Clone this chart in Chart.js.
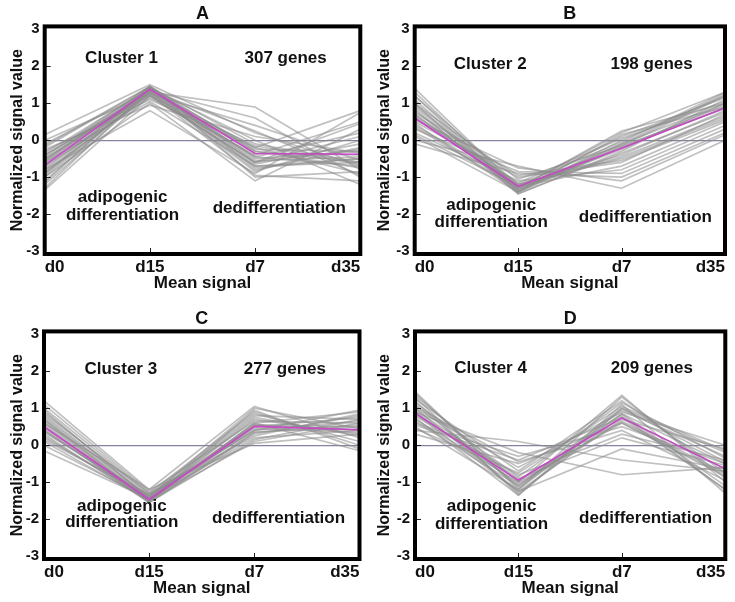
<!DOCTYPE html>
<html>
<head>
<meta charset="utf-8">
<script src="https://cdn.jsdelivr.net/npm/chart.js@4.4.1/dist/chart.umd.min.js"></script>
<style>
  html, body { margin: 0; padding: 0; background: #fff; overflow: hidden; width: 735px; height: 602px; }
  .panel { position: absolute; height: 300px; }
</style>
</head>
<body>
<div class="panel" style="left:0;top:0;width:367px"><canvas id="chart-a"></canvas></div>
<div class="panel" style="left:367px;top:0;width:368px"><canvas id="chart-b"></canvas></div>
<div class="panel" style="left:0;top:305px;width:367px"><canvas id="chart-c"></canvas></div>
<div class="panel" style="left:367px;top:305px;width:368px"><canvas id="chart-d"></canvas></div>

<script>
// time points and y tick labels
var days = ['d0', 'd15', 'd7', 'd35'];
var yTicks = [-3, -2, -1, 0, 1, 2, 3];

// cluster 1 (307 genes): mean profile + a sample of gene profiles
var meanA = [-0.68, 1.38, -0.36, -0.38];
var genesA = [
  [-0.65, 1.40, -0.35, -0.40], [-0.20, 1.45, -0.10, -0.60], [0.15, 1.50, 0.20, -0.70],
  [-0.40, 1.30, 0.90, -0.80], [-1.35, 1.20, -0.60, 0.10], [-1.10, 1.35, -0.80, -0.20],
  [-0.90, 1.45, -0.50, -0.30], [-0.50, 1.25, 0.40, -0.55], [-0.30, 1.10, -0.20, -0.90],
  [-1.00, 1.00, -1.10, 0.30], [-0.80, 0.80, -0.90, 0.75], [-0.60, 1.40, 0.00, -1.20],
  [-1.20, 1.30, -0.70, -0.50], [-0.10, 1.35, 0.60, -1.00], [-0.70, 1.15, -0.40, 0.50],
  [-0.45, 1.45, -0.30, -0.75], [-0.95, 1.40, -0.65, -0.10], [-0.25, 0.95, 0.10, -0.35],
  [-0.55, 1.30, -0.85, 0.00], [-0.85, 1.20, -0.15, -0.65], [-0.35, 1.40, -0.55, -0.45],
  [-1.15, 1.45, -1.00, -0.85], [-0.75, 1.35, 0.25, -0.95], [0.00, 1.25, -0.45, 0.20],
  [-0.60, 1.05, -0.70, -0.60], [-1.30, 1.40, -0.25, -0.30], [-0.15, 1.45, -0.75, -0.50],
  [-0.50, 1.35, -0.20, 0.80], [-0.90, 1.25, -0.95, -1.10], [-0.40, 1.20, -0.60, 0.45],
  [-0.80, 1.35, -0.45, -0.70], [-0.55, 1.45, -0.60, -0.25], [-1.00, 1.30, -0.30, -0.60]
];

// cluster 2 (198 genes)
var meanB = [0.60, -1.25, -0.22, 0.88];
var genesB = [
  [0.60, -1.25, -0.20, 0.88], [1.40, -1.30, 0.20, 1.30], [1.20, -1.40, 0.00, 1.20],
  [1.00, -1.45, -0.30, 1.10], [0.80, -1.35, -0.10, 1.25], [0.40, -1.20, -0.50, 0.60],
  [0.20, -1.10, -0.80, 0.40], [-0.10, -0.90, -1.00, 0.20], [0.00, -0.70, -1.30, 0.00],
  [0.90, -1.30, 0.25, 1.00], [0.70, -1.20, -0.40, 0.80], [1.10, -1.40, -0.20, 0.95],
  [0.50, -1.00, -0.60, 0.70], [0.30, -0.85, -0.90, 0.30], [1.30, -1.35, 0.10, 1.15],
  [0.65, -1.15, 0.05, 1.05], [0.85, -1.45, -0.35, 0.75], [0.15, -1.25, -0.70, 0.50],
  [1.00, -1.05, -0.15, 1.20], [0.45, -1.40, 0.15, 0.90], [0.75, -0.95, -0.55, 0.55],
  [1.20, -1.20, -0.05, 1.30], [0.35, -1.30, -0.25, 1.00], [0.55, -0.75, -1.10, 0.15],
  [0.95, -1.25, -0.45, 0.65], [0.10, -1.40, -0.15, 0.85], [0.70, -1.35, -0.10, 1.00]
];

// cluster 3 (277 genes)
var meanC = [0.50, -1.47, 0.51, 0.42];
var genesC = [
  [0.50, -1.47, 0.50, 0.42], [1.20, -1.20, 1.05, 0.20], [1.00, -1.30, 0.90, 0.00],
  [0.80, -1.40, 0.80, 0.70], [0.60, -1.50, 0.60, 0.90], [0.30, -1.55, 0.30, 0.80],
  [0.10, -1.50, 0.10, 0.60], [-0.15, -1.45, 0.20, 0.40], [0.90, -1.35, 0.40, 0.95],
  [0.70, -1.45, 0.70, 0.30], [0.40, -1.50, 0.95, -0.10], [0.20, -1.40, 0.55, 0.50],
  [1.10, -1.25, 0.65, 0.60], [0.55, -1.55, 0.15, 0.70], [0.35, -1.35, 0.85, 0.10],
  [0.65, -1.50, 0.45, 0.35], [0.85, -1.30, 0.25, 0.85], [0.00, -1.45, 0.75, 0.25],
  [0.45, -1.55, 0.35, 0.55], [0.75, -1.40, 1.00, 0.45], [0.25, -1.50, 0.60, -0.15],
  [0.95, -1.45, 0.50, 0.75], [0.60, -1.20, 0.05, 0.30], [0.15, -1.35, 0.40, 0.65],
  [0.40, -1.45, 0.55, 0.40], [0.70, -1.50, 0.35, 0.50]
];

// cluster 4 (209 genes)
var meanD = [0.87, -0.95, 0.74, -0.64];
var genesD = [
  [0.87, -0.95, 0.74, -0.64], [1.45, -1.20, 1.30, -0.90], [1.30, -1.35, 1.10, -1.30],
  [1.10, -1.10, 1.00, -0.20], [1.00, -0.60, 0.90, 0.00], [0.60, -0.30, 0.50, -0.50],
  [0.40, 0.10, -0.40, -0.70], [0.30, -0.50, 0.60, -0.80], [0.70, -1.00, 1.35, -1.00],
  [0.90, -0.20, -0.80, -0.60], [1.20, -1.30, 0.80, -1.20], [0.80, -0.80, 0.30, -0.40],
  [0.50, -1.20, 0.95, -0.30], [1.00, -1.25, 0.70, -0.10], [1.25, -0.70, 1.20, -0.75],
  [0.65, -1.10, 0.85, -1.10], [0.95, -0.90, 0.20, -0.55], [1.35, -1.00, 0.60, -0.85],
  [0.75, -1.35, 1.00, -0.45], [0.55, -0.40, 0.75, -1.20], [1.15, -0.85, 1.15, -0.35],
  [0.85, -1.25, -0.10, -0.65], [1.05, -0.45, 0.40, -0.95], [0.45, -0.75, 1.05, -0.15],
  [1.40, -1.15, 0.85, -0.50], [0.90, -1.05, 0.65, -0.75]
];

var FONT = "'Liberation Sans', Arial, sans-serif";

// text written inside each plot, placed in data units (x = category index)
function panelNotes(cluster, genes, ys) {
  return [
    { text: cluster, x: 0.73, y: ys[0] },
    { text: genes, x: 2.29, y: ys[0] },
    { text: 'adipogenic', x: 0.74, y: ys[1] },
    { text: 'differentiation', x: 0.74, y: ys[2] },
    { text: 'dedifferentiation', x: 2.23, y: ys[3] }
  ];
}

var framePlugin = {
  id: 'frame',
  afterDatasetsDraw: function (chart, args, opts) {
    var ctx = chart.ctx;
    var area = chart.chartArea;
    var xs = chart.scales.x;
    var ys = chart.scales.y;

    ctx.save();
    // inner tick marks
    ctx.strokeStyle = '#222';
    ctx.lineWidth = 1;
    yTicks.forEach(function (v) {
      if (Math.abs(v) === 3) return;
      var py = Math.round(ys.getPixelForValue(v)) + 0.5;
      ctx.beginPath();
      ctx.moveTo(area.left, py);
      ctx.lineTo(area.left + 6, py);
      ctx.stroke();
    });
    for (var i = 1; i < days.length - 1; i++) {
      var px = Math.round(xs.getPixelForValue(i)) + 0.5;
      ctx.beginPath();
      ctx.moveTo(px, area.bottom);
      ctx.lineTo(px, area.bottom - 6);
      ctx.stroke();
    }

    // notes
    ctx.fillStyle = '#111';
    ctx.font = 'bold 17px ' + FONT;
    ctx.textAlign = 'center';
    ctx.textBaseline = 'middle';
    (opts.notes || []).forEach(function (n) {
      ctx.fillText(n.text, xs.getPixelForValue(n.x), ys.getPixelForValue(n.y));
    });

    // heavy box
    ctx.strokeStyle = '#000';
    ctx.lineWidth = 4;
    ctx.strokeRect(area.left, area.top, area.right - area.left, area.bottom - area.top);
    ctx.restore();
  }
};

function buildChart(id, letter, mean, genes, notes, axisWidth, rightPad) {
  var datasets = [{
    data: mean,
    borderColor: '#c848c8',
    borderWidth: 1.6,
    order: 0
  }];
  genes.forEach(function (g) {
    datasets.push({
      data: g,
      borderColor: 'rgba(140,140,140,0.55)',
      borderWidth: 1.7,
      order: 1
    });
  });

  return new Chart(document.getElementById(id), {
    type: 'line',
    data: { labels: days, datasets: datasets },
    plugins: [framePlugin],
    options: {
      responsive: true,
      maintainAspectRatio: false,
      animation: false,
      events: [],
      elements: { point: { radius: 0 }, line: { tension: 0 } },
      layout: { padding: { left: 0, right: rightPad, top: 0, bottom: 0 } },
      plugins: {
        legend: { display: false },
        tooltip: { enabled: false },
        title: {
          display: true,
          text: letter,
          fullSize: false,
          color: '#111',
          font: { family: FONT, size: 18, weight: 'bold' },
          padding: { top: 3, bottom: 1.8 }
        },
        frame: { notes: notes }
      },
      scales: {
        x: {
          offset: false,
          border: { display: false },
          grid: { display: false, drawTicks: false },
          ticks: {
            align: 'inner',
            padding: 3,
            color: '#111',
            font: { family: FONT, size: 17, weight: 'bold' },
            maxRotation: 0
          },
          title: {
            display: true,
            text: 'Mean signal',
            color: '#111',
            font: { family: FONT, size: 17, weight: 'bold' },
            padding: { top: 0, bottom: 6 }
          },
          afterFit: function (scale) { scale.height = 46; }
        },
        y: {
          min: -3.08,
          max: 3.08,
          border: { display: false },
          grid: {
            drawTicks: false,
            lineWidth: 1.2,
            color: function (c) {
              return c.tick && c.tick.value === 0 ? '#8484a0' : 'rgba(0,0,0,0)';
            }
          },
          afterBuildTicks: function (scale) {
            scale.ticks = yTicks.map(function (v) { return { value: v }; });
          },
          ticks: {
            padding: 5,
            color: '#111',
            font: { family: FONT, size: 15, weight: 'bold' }
          },
          title: {
            display: true,
            text: 'Normalized signal value',
            color: '#111',
            font: { family: FONT, size: 16, weight: 'bold' },
            padding: { top: 8, bottom: 0 }
          },
          afterFit: function (scale) { scale.width = axisWidth; }
        }
      }
    }
  });
}

buildChart('chart-a', 'A', meanA, genesA,
  panelNotes('Cluster 1', '307 genes', [2.22, -1.55, -2.04, -1.85]), 44.7, 6.7);
buildChart('chart-b', 'B', meanB, genesB,
  panelNotes('Cluster 2', '198 genes', [2.05, -1.76, -2.22, -2.08]), 47.7, 10);
buildChart('chart-c', 'C', meanC, genesC,
  panelNotes('Cluster 3', '277 genes', [2.05, -1.65, -2.1, -1.97]), 44, 7.5);
buildChart('chart-d', 'D', meanD, genesD,
  panelNotes('Cluster 4', '209 genes', [2.08, -1.65, -2.13, -1.97]), 48, 9.7);
</script>
</body>
</html>
